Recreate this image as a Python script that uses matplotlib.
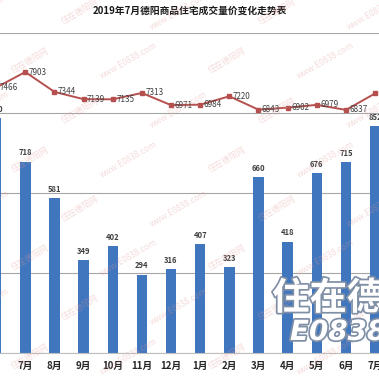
import matplotlib.pyplot as plt
import matplotlib.patheffects as pe

plt.rcParams['font.family'] = ['Noto Sans CJK SC', 'DejaVu Sans']

months = ['6月', '7月', '8月', '9月', '10月', '11月', '12月',
          '1月', '2月', '3月', '4月', '5月', '6月', '7月']
volume = [880, 718, 581, 349, 402, 294, 316, 407, 323, 660, 418, 676, 715, 852]
price = [7466, 7903, 7344, 7139, 7135, 7313, 6971, 6984, 7220, 6843, 6902, 6979, 6837, 7300]

bar_color = '#3F76BE'
line_color = '#B5504E'
text_color = '#404040'

fig = plt.figure(figsize=(3.79, 3.79), dpi=100)
fig.patch.set_facecolor('white')

ax = fig.add_axes([0, 26 / 379, 1, 320 / 379])
x = list(range(len(months)))
bars = ax.bar(x, volume, width=0.36, color=bar_color, zorder=2)
ax.set_xlim(0.132, 13.134)
ax.set_ylim(0, 1200)
ax.set_yticks([0, 300, 600, 900, 1200])
ax.yaxis.grid(True, color='#A6A6A6', linewidth=0.8, zorder=0)
ax.set_axisbelow(True)
for s in ['left', 'right', 'top']:
    ax.spines[s].set_visible(False)
ax.spines['bottom'].set_color('#BFBFBF')
ax.spines['bottom'].set_linewidth(0.8)
ax.set_yticklabels([])
ax.tick_params(axis='y', length=0)
ax.set_xticks(x)
ax.set_xticklabels(months, fontsize=7, fontweight='bold', color='#262626')
ax.tick_params(axis='x', length=0, pad=6)

for xi, v in zip(x, volume):
    ax.annotate(str(v), (xi, v), xytext=(0, 3), textcoords='offset points',
                ha='center', va='bottom', fontsize=5.5, fontweight='bold',
                color=text_color, annotation_clip=False)

ax2 = ax.twinx()
ax2.set_ylim(0, 9000)
ax2.set_xlim(0.132, 13.134)
ax2.axis('off')
ax2.plot(x, price, color=line_color, linewidth=1.4, marker='s',
         markersize=3.2, clip_on=False)
for xi, v in zip(x, price):
    ax2.annotate(str(v), (xi, v), xytext=(2.5, 0), textcoords='offset points',
                 ha='left', va='center', fontsize=5.8, color=text_color,
                 annotation_clip=False)

fig.text(0.5, 1 - 11 / 379, '2019年7月德阳商品住宅成交量价变化走势表',
         ha='center', va='center', fontsize=7, fontweight='bold', color='#1a1a1a')

# faint watermark pattern
for row in range(8):
    for col in range(5):
        wx = -0.05 + col * 0.26 + (row % 2) * 0.13
        wy = 0.97 - row * 0.13
        label = 'www.E0838.com' if (row + col) % 2 == 0 else '住在德阳网'
        fig.text(wx, wy, label, rotation=30, fontsize=6, color='#E29A9A',
                 alpha=0.35, ha='center', va='center', zorder=20)

# logo in the lower right corner
outline = [pe.withStroke(linewidth=2.5, foreground='#7F8FA6')]
fig.text(272 / 379, 1 - 298 / 379, '住在德阳', fontsize=27, fontweight='bold',
         color='white', ha='left', va='center', path_effects=outline, zorder=21)
fig.text(290 / 379, 1 - 332 / 379, 'E0838.com', fontsize=20, fontweight='bold',
         style='italic', color='white', ha='left', va='center',
         family='DejaVu Sans', path_effects=outline, zorder=21)

fig.savefig('out.png', dpi=100)
